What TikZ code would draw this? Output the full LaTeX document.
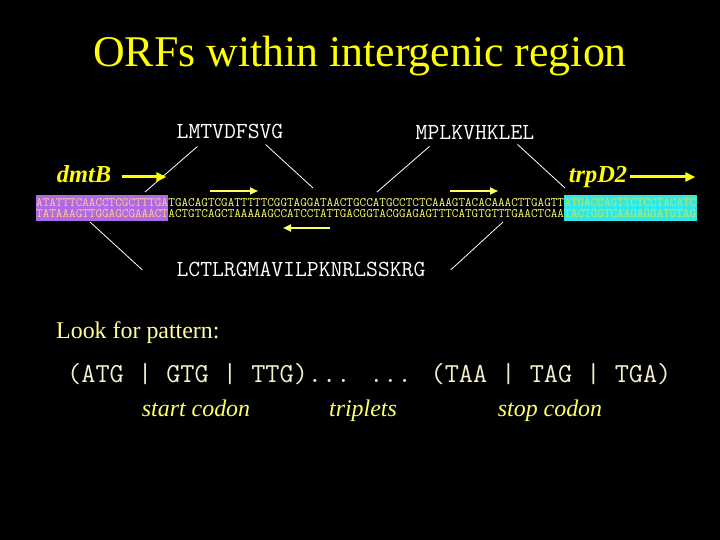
\documentclass[tikz,border=0pt]{standalone}
\usepackage{fontspec}
\setmainfont{Liberation Serif}
\usetikzlibrary{arrows.meta,calc,fit,backgrounds}
\definecolor{SlideYellow}{HTML}{FFFF00}
\definecolor{SeqYellow}{HTML}{FFFF66}
\definecolor{PaleYellow}{HTML}{FFFF99}
\definecolor{PatternCream}{HTML}{F4F2CC}
\definecolor{DmtPurple}{HTML}{B06AE6}
\definecolor{DmtText}{HTML}{FFCC8C}
\definecolor{TrpCyan}{HTML}{2FE8E8}
\definecolor{TrpText}{HTML}{C4E85A}

\begin{document}
\begin{tikzpicture}[
    x=1bp, y=-1bp,
    seq/.style={
      font=\ttfamily\fontsize{12.85}{11}\selectfont,
      align=left,
      inner sep=0pt,
      text=SeqYellow,
      anchor=north west
    },
    protein/.style={
      font=\ttfamily\fontsize{23.1}{24}\selectfont,
      inner sep=0pt,
      text=white,
      anchor=base
    },
    gene/.style={
      font=\bfseries\itshape\fontsize{24.5}{28}\selectfont,
      inner sep=0pt,
      text=SlideYellow,
      anchor=base
    },
    note/.style={
      font=\itshape\fontsize{24}{28}\selectfont,
      inner sep=0pt,
      text=SeqYellow,
      anchor=base
    },
    highlight/.style={
      fill=#1,
      inner xsep=0pt,
      inner ysep=3bp
    },
    genearrow/.style={
      -{Triangle[length=10bp,width=9bp]},
      line width=3bp,
      color=SlideYellow
    },
    orfarrow/.style={
      -{Triangle[length=8bp,width=7bp]},
      line width=2.5bp,
      color=SeqYellow
    },
    orfline/.style={
      white,
      line width=0.8bp
    }
  ]

  \path[use as bounding box] (0,0) rectangle (720,540);

  % Title
  \node[font=\fontsize{44}{50}\selectfont, text=SlideYellow, anchor=base, inner sep=0pt]
    (title) at (360,67) {ORFs within intergenic region};

  % Translated ORFs
  \node[protein] (lmt) at (230,139) {LMTVDFSVG};
  \node[protein] (mpl) at (475,140) {MPLKVHKLEL};
  \node[protein] (lct) at (301,277) {LCTLRGMAVILPKNRLSSKRG};

  % Genes
  \node[gene] (dmtb) at (84,183)  {dmtB};
  \node[gene] (trp)  at (598,183) {trpD2};

  % Sequence, both strands
  \node[seq, text=DmtText] (dmtseq) at (36,198)
    {ATATTTCAACCTCGCTTTGA\\TATAAAGTTGGAGCGAAACT};
  \node[seq] (interseq) at (dmtseq.north east)
    {TGACAGTCGATTTTTCGGTAGGATAACTGCCATGCCTCTCAAAGTACACAAACTTGAGTT\\
     ACTGTCAGCTAAAAAGCCATCCTATTGACGGTACGGAGAGTTTCATGTGTTTGAACTCAA};
  \node[seq, text=TrpText] (trpseq) at (interseq.north east)
    {ATGACCAGTTCTCCTACATC\\TACTGGTCAAGAGGATGTAG};

  \begin{scope}[on background layer]
    \fill[black] (0,0) rectangle (720,540);
    \node[highlight=DmtPurple, fit=(dmtseq)] (dmtbox) {};
    \node[highlight=TrpCyan, fit=(trpseq)] (trpbox) {};
  \end{scope}

  % ORF ends on the sequence
  \coordinate (lmtA) at (145,192);
  \coordinate (lmtB) at (313,188);
  \coordinate (mplA) at (377,192);
  \coordinate (mplB) at (565,188);
  \coordinate (lctA) at (90,222);
  \coordinate (lctB) at (503,222);

  \draw[orfline] ($(lmt.south west)+(21,7)$)  -- (lmtA);
  \draw[orfline] ($(lmt.south east)+(-18,5)$) -- (lmtB);
  \draw[orfline] ($(mpl.south west)+(14,6)$)  -- (mplA);
  \draw[orfline] ($(mpl.south east)+(-17,4)$) -- (mplB);
  \draw[orfline] ($(lct.west)+(-34,0)$)       -- (lctA);
  \draw[orfline] ($(lct.east)+(25,0)$)        -- (lctB);

  % Reading directions
  \draw[genearrow] ($(dmtb.base east)+(11,-6)$) -- ++(44,0);
  \draw[genearrow] ($(trp.base east)+(3,-6)$)   -- ++(65,0);

  \coordinate (fwdA) at (210,191);
  \coordinate (fwdB) at (450,191);
  \coordinate (revA) at (330,228);
  \draw[orfarrow] (fwdA) -- ++(48,0);
  \draw[orfarrow] (fwdB) -- ++(48,0);
  \draw[orfarrow] (revA) -- ++(-47,0);

  % Pattern
  \node[font=\fontsize{24}{28}\selectfont, text=PaleYellow, anchor=base west, inner sep=0pt]
    (look) at (56,338) {Look for pattern:};
  \node[font=\ttfamily\fontsize{27.6}{30}\selectfont, text=PatternCream, anchor=base west, inner sep=0pt]
    (pattern) at (67,382) {(ATG | GTG | TTG)... ... (TAA | TAG | TGA)};

  \node[note] (start)    at (196,416) {start codon};
  \node[note] (triplets) at (363,416) {triplets};
  \node[note] (stop)     at (550,416) {stop codon};

\end{tikzpicture}
\end{document}
